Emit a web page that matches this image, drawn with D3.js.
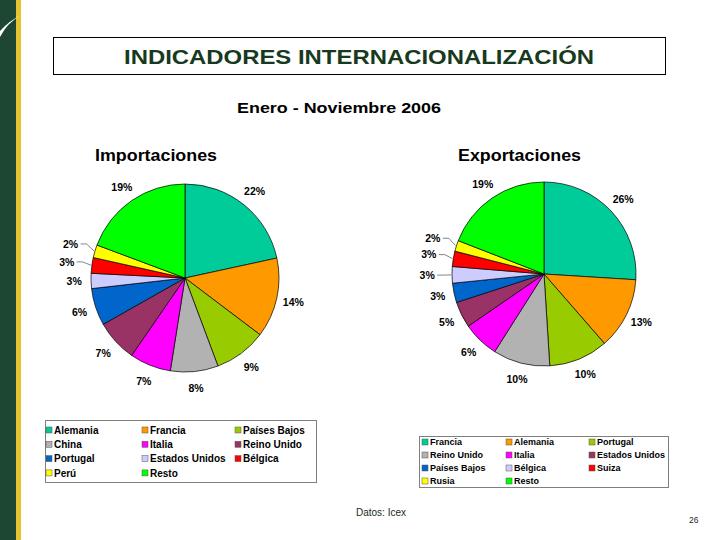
<!DOCTYPE html>
<html>
<head>
<meta charset="utf-8">
<script src="https://cdn.jsdelivr.net/npm/d3@7"></script>
<style>
  body { margin: 0; background: #fff; }
  svg { display: block; }
  text { font-family: Arial, "Liberation Sans", sans-serif; }
</style>
</head>
<body>
<svg id="chart"></svg>
<script>
/* colores por posición (igual en los dos gráficos) */
const colores = ["#00cc99", "#ff9900", "#99cc00", "#b2b2b2", "#ff00ff", "#993366",
                 "#0066cc", "#ccccff", "#ff0000", "#ffff00", "#00ff00"];

/* Importaciones */
const impCategorias = ["Alemania", "Francia", "Países Bajos", "China", "Italia", "Reino Unido",
                       "Portugal", "Estados Unidos", "Bélgica", "Perú", "Resto"];
const impValores = [21.6, 13.7, 9.0, 8.2, 7.1, 7.2, 6.4, 2.6, 2.7, 2.2, 19.3];

/* Exportaciones */
const expCategorias = ["Francia", "Alemania", "Portugal", "Reino Unido", "Italia", "Estados Unidos",
                       "Países Bajos", "Bélgica", "Suiza", "Rusia", "Resto"];
const expValores = [26.0, 12.6, 10.4, 10.0, 6.4, 4.6, 3.4, 2.9, 2.7, 1.9, 19.1];

const width = 720, height = 540;

const svg = d3.select("#chart")
    .attr("width", width)
    .attr("height", height);

/* banda lateral */
svg.append("rect").attr("x", 0).attr("y", 0).attr("width", 16).attr("height", height).attr("fill", "#1d4733");
svg.append("rect").attr("x", 16).attr("y", 0).attr("width", 5).attr("height", height).attr("fill", "#e5c22f");
svg.append("path")
    .attr("d", "M0,37 Q7,23 21,15 Q9,21 0,31 Z")
    .attr("fill", "#fff");

/* título */
svg.append("rect")
    .attr("x", 53.5).attr("y", 37.5).attr("width", 612).attr("height", 37)
    .attr("fill", "none").attr("stroke", "#000").attr("stroke-width", 1);
svg.append("text")
    .attr("x", 124).attr("y", 64)
    .attr("font-size", 21)
    .attr("font-weight", "bold")
    .attr("textLength", 470).attr("lengthAdjust", "spacingAndGlyphs")
    .attr("fill", "#173a1f")
    .text("INDICADORES INTERNACIONALIZACIÓN");

svg.append("text")
    .attr("x", 237).attr("y", 113)
    .attr("font-size", 14.5).attr("font-weight", "bold")
    .attr("textLength", 204).attr("lengthAdjust", "spacingAndGlyphs")
    .text("Enero - Noviembre 2006");

svg.append("text").attr("x", 95).attr("y", 161).attr("font-size", 16).attr("font-weight", "bold")
    .attr("textLength", 122).attr("lengthAdjust", "spacingAndGlyphs").text("Importaciones");
svg.append("text").attr("x", 458).attr("y", 161).attr("font-size", 16).attr("font-weight", "bold")
    .attr("textLength", 123).attr("lengthAdjust", "spacingAndGlyphs").text("Exportaciones");

const color = d3.scaleOrdinal().domain(d3.range(colores.length)).range(colores);

/* dibuja una tarta */
const drawPie = (cats, vals, cx, cy, r, conLinea) => {
    const data = cats.map((c, i) => ({ cat: c, v: vals[i], i: i }));
    const pie = d3.pie().sort(null).value((d) => d.v);
    const arcs = pie(data);

    const g = svg.append("g").attr("transform", `translate(${cx}, ${cy})`);

    const arc = d3.arc().innerRadius(0).outerRadius(r);
    g.selectAll("path.slice")
      .data(arcs)
      .enter().append("path")
      .attr("class", "slice")
      .attr("d", arc)
      .attr("fill", (d) => color(d.data.i))
      .attr("stroke", "#000")
      .attr("stroke-width", 0.7);

    const labelArc = d3.arc().innerRadius(r * 1.18).outerRadius(r * 1.18);
    const farArc = d3.arc().innerRadius(r * 1.27).outerRadius(r * 1.27);
    const edgeArc = d3.arc().innerRadius(r * 1.01).outerRadius(r * 1.01);
    const fmt = (v) => Math.round(v) + "%";

    arcs.forEach((d) => {
        const far = conLinea.includes(d.data.cat);
        const p = far ? farArc.centroid(d) : labelArc.centroid(d);
        g.append("text")
          .attr("x", p[0]).attr("y", p[1])
          .attr("dy", "0.36em")
          .attr("text-anchor", "middle")
          .attr("font-size", 10.5).attr("font-weight", "bold")
          .text(fmt(d.data.v));
        if (far) {
            const e = edgeArc.centroid(d);
            g.append("path")
              .attr("d", d3.line()([[p[0] + 10, p[1]], [p[0] + 16, p[1]], e]))
              .attr("fill", "none")
              .attr("stroke", "#333")
              .attr("stroke-width", 0.6);
        }
    });
};

drawPie(impCategorias, impValores, 185, 278, 94, ["Bélgica", "Perú"]);
drawPie(expCategorias, expValores, 544, 274, 92, ["Bélgica", "Suiza", "Rusia"]);

/* leyendas */
const drawLegend = (cats, box, x0s, y0, dy, fs, sq) => {
    svg.append("rect")
      .attr("x", box[0] + 0.5).attr("y", box[1] + 0.5)
      .attr("width", box[2]).attr("height", box[3])
      .attr("fill", "#fff").attr("stroke", "#7f7f7f").attr("stroke-width", 1);
    const items = svg.append("g").selectAll("g")
      .data(cats)
      .enter().append("g")
      .attr("transform", (d, i) => `translate(${x0s[i % 3]}, ${y0 + Math.floor(i / 3) * dy})`);
    items.append("rect")
      .attr("x", 0).attr("y", -sq / 2)
      .attr("width", sq).attr("height", sq)
      .attr("fill", (d, i) => color(i))
      .attr("stroke", "#555").attr("stroke-width", 0.5);
    items.append("text")
      .attr("x", sq + 2).attr("y", 0)
      .attr("dy", "0.36em")
      .attr("font-size", fs).attr("font-weight", "bold")
      .text((d) => d);
};

drawLegend(impCategorias, [45, 420, 271, 62], [46, 142, 235], 430, 14.3, 10, 6);
drawLegend(expCategorias, [419, 436, 249, 51], [422, 506, 589], 442, 13, 9, 6);

/* pie de página */
svg.append("text").attr("x", 356).attr("y", 516).attr("font-size", 10).attr("fill", "#1a2a1a").text("Datos: Icex");
svg.append("text").attr("x", 689).attr("y", 523).attr("font-size", 8.5).attr("fill", "#1a2a1a").text("26");
</script>
</body>
</html>
